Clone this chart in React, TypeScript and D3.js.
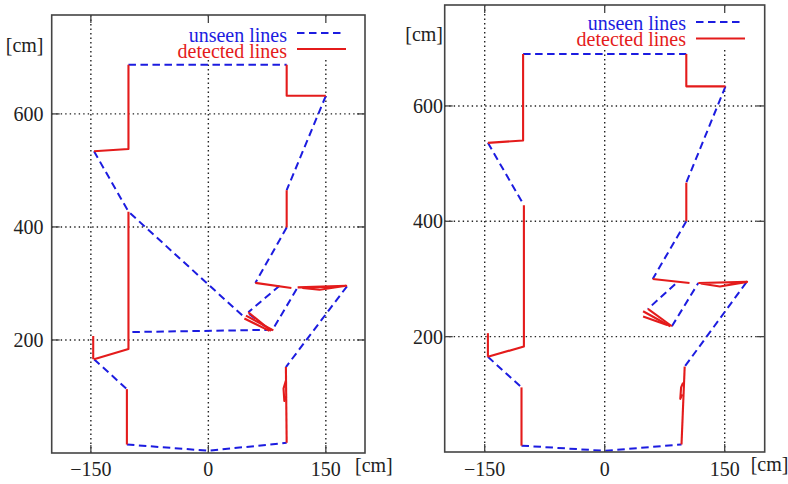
import React from 'react';
import * as d3 from 'd3';

type Pt = [number, number];

const xTicks = [-150, 0, 150];
const yTicks = [200, 400, 600];
const xDomain: Pt = [-200, 200];
const yDomain: Pt = [0, 775];
const legendLabels = ['unseen lines', 'detected lines'];
const unitLabel = '[cm]';

// Left panel
const leftDetected: Pt[][] = [
  [[-102, 687], [-102, 538], [-146, 534]],
  [[100, 687], [100, 632], [150, 632]],
  [[100, 465], [100, 399]],
  [[-102, 427], [-102, 184], [-146, 166]],
  [[-147, 207], [-147, 166]],
  [[-104, 113], [-104, 15]],
  [[100, 18], [99, 152]],
  [[99, 128], [96, 114], [97, 92], [99.5, 100]],
  [[60, 301], [106, 292]],
  [[114, 293], [176, 296], [142, 289], [120, 292]],
  [[51, 249], [80, 216]],
  [[46, 238], [78, 216]],
  [[48, 243], [83, 217]],
];
const leftUnseen: Pt[][] = [
  [[-102, 687], [100, 687]],
  [[150, 632], [100, 465]],
  [[100, 399], [60, 301]],
  [[-146, 534], [-102, 427], [46, 240]],
  [[-97, 214], [82, 218], [114, 293]],
  [[91, 296], [51, 249]],
  [[177, 295], [99, 152]],
  [[-146, 166], [-104, 113]],
  [[-104, 15], [0, 4], [100, 18]],
  [[52, 246], [78, 218]],
];

// Right panel
const rightDetected: Pt[][] = [
  [[-102, 690], [-102, 540], [-146, 536]],
  [[102, 690], [102, 634], [151, 634]],
  [[102, 467], [102, 400]],
  [[-101, 428], [-101, 183], [-146, 165]],
  [[-146, 206], [-146, 165]],
  [[-104, 112], [-104, 11]],
  [[96, 13], [100, 148]],
  [[98, 120], [95.5, 112], [94.5, 92], [97, 100]],
  [[60, 300], [106, 293]],
  [[117, 293], [178, 295], [144, 287], [120, 292]],
  [[48, 244], [82, 218]],
  [[48, 235], [78, 220]],
  [[54, 248], [84, 218]],
];
const rightUnseen: Pt[][] = [
  [[-102, 690], [102, 690]],
  [[151, 634], [102, 467]],
  [[102, 400], [60, 300]],
  [[-146, 536], [-101, 428]],
  [[88, 291], [54, 248]],
  [[84, 218], [117, 293]],
  [[177, 294], [100, 148]],
  [[-146, 165], [-104, 112]],
  [[-104, 11], [0, 2], [96, 13]],
];

const RED = '#e41b1b';
const BLUE = '#1c1ce0';
const FONT = '"Liberation Serif", "DejaVu Serif", serif';

interface PanelProps {
  x0: number; x1: number; y0: number; y1: number;
  detected: Pt[][]; unseen: Pt[][];
  yLabelX: number; yUnitY: number; xLabelY: number; xUnitX: number; xUnitY: number;
  legTextX: number; legY: [number, number]; legSampleY: [number, number];
  legSampleX: [number, number]; keyBox: [number, number, number, number];
}

function fmt(v: number) {
  return v < 0 ? '\u2212' + Math.abs(v) : String(v);
}

function Panel(p: PanelProps) {
  const xs = d3.scaleLinear().domain(xDomain).range([p.x0, p.x1]);
  const ys = d3.scaleLinear().domain(yDomain).range([p.y1, p.y0]);
  const line = d3.line<Pt>().x(d => xs(d[0])).y(d => ys(d[1]));
  const tl = 8;
  const fs = 20;
  return (
    <g>
      {xTicks.map(t => (
        <line key={'gx' + t} x1={xs(t)} x2={xs(t)} y1={p.y0} y2={p.y1}
          stroke="#222" strokeWidth={1.4} strokeDasharray="1.4,3.1" />
      ))}
      {yTicks.map(t => (
        <line key={'gy' + t} x1={p.x0} x2={p.x1} y1={ys(t)} y2={ys(t)}
          stroke="#222" strokeWidth={1.4} strokeDasharray="1.4,3.1" />
      ))}
      <rect x={p.keyBox[0]} y={p.keyBox[1]} width={p.keyBox[2]} height={p.keyBox[3]} fill="#fff" />
      {p.unseen.map((s, i) => (
        <path key={'u' + i} d={line(s) || ''} fill="none" stroke={BLUE}
          strokeWidth={2} strokeDasharray="7.5,4.5" />
      ))}
      {p.detected.map((s, i) => (
        <path key={'d' + i} d={line(s) || ''} fill="none" stroke={RED}
          strokeWidth={2.1} strokeLinejoin="round" />
      ))}
      <rect x={p.x0} y={p.y0} width={p.x1 - p.x0} height={p.y1 - p.y0}
        fill="none" stroke="#444" strokeWidth={1.6} />
      {xTicks.map(t => (
        <g key={'tx' + t}>
          <line x1={xs(t)} x2={xs(t)} y1={p.y1} y2={p.y1 - tl} stroke="#444" strokeWidth={1.3} />
          <line x1={xs(t)} x2={xs(t)} y1={p.y0} y2={p.y0 + tl} stroke="#444" strokeWidth={1.3} />
        </g>
      ))}
      {yTicks.map(t => (
        <g key={'ty' + t}>
          <line x1={p.x0} x2={p.x0 + tl} y1={ys(t)} y2={ys(t)} stroke="#444" strokeWidth={1.3} />
          <line x1={p.x1} x2={p.x1 - tl} y1={ys(t)} y2={ys(t)} stroke="#444" strokeWidth={1.3} />
        </g>
      ))}
      <g fontFamily={FONT} fontSize={fs} fill="#222">
        {yTicks.map(t => (
          <text key={'ly' + t} x={p.yLabelX} y={ys(t) + 7} textAnchor="end">{fmt(t)}</text>
        ))}
        <text x={p.yLabelX} y={p.yUnitY} textAnchor="end">{unitLabel}</text>
        {xTicks.map(t => (
          <text key={'lx' + t} x={xs(t)} y={p.xLabelY} textAnchor="middle">{fmt(t)}</text>
        ))}
        <text x={p.xUnitX} y={p.xUnitY}>{unitLabel}</text>
      </g>
      <g fontFamily={FONT} fontSize={20}>
        <text x={p.legTextX} y={p.legY[0]} textAnchor="end" fill={BLUE}>{legendLabels[0]}</text>
        <text x={p.legTextX} y={p.legY[1]} textAnchor="end" fill={RED}>{legendLabels[1]}</text>
      </g>
      <line x1={p.legSampleX[0]} x2={p.legSampleX[1]} y1={p.legSampleY[0]} y2={p.legSampleY[0]}
        stroke={BLUE} strokeWidth={2} strokeDasharray="7.5,4.5" />
      <line x1={p.legSampleX[0]} x2={p.legSampleX[1] + 2} y1={p.legSampleY[1]} y2={p.legSampleY[1]}
        stroke={RED} strokeWidth={2} />
    </g>
  );
}

export default function App() {
  return (
    <svg width={788} height={484} style={{ position: 'absolute', left: 0, top: 0, background: '#fff' }}>
      <rect width={788} height={484} fill="#fff" />
      <Panel x0={51.7} x1={365} y0={15} y1={453}
        detected={leftDetected} unseen={leftUnseen}
        yLabelX={43.5} yUnitY={52} xLabelY={476} xUnitX={355} xUnitY={472}
        legTextX={287} legY={[41.5, 57.5]} legSampleY={[33, 49]} legSampleX={[297, 344]}
        keyBox={[178, 17, 174, 43]} />
      <Panel x0={444.7} x1={764.7} y0={5} y1={452}
        detected={rightDetected} unseen={rightUnseen}
        yLabelX={443} yUnitY={41} xLabelY={476} xUnitX={750.7} xUnitY={471}
        legTextX={686} legY={[29.5, 46]} legSampleY={[22, 38.5]} legSampleX={[696, 743]}
        keyBox={[573, 7, 180, 41]} />
    </svg>
  );
}
